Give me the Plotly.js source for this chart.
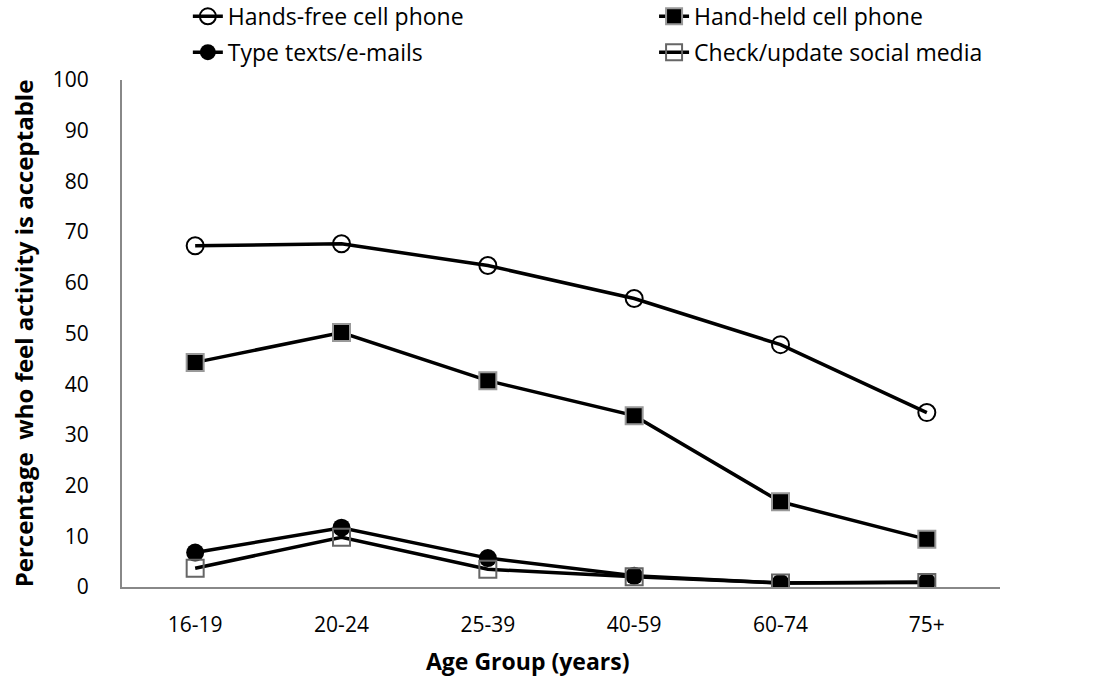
<!DOCTYPE html>
<html>
<head>
<meta charset="utf-8">
<script src="https://cdn.plot.ly/plotly-3.0.1.min.js"></script>
<style>html,body{margin:0;padding:0;background:#fff;}#chart{width:1102px;height:677px;}</style>
</head>
<body>
<div id="chart"></div>
<script>
var ageGroups = ["16-19", "20-24", "25-39", "40-59", "60-74", "75+"];
var handsFree = [67.3, 67.7, 63.4, 56.9, 47.8, 34.4];
var handHeld = [44.3, 50.2, 40.7, 33.8, 16.8, 9.4];
var typeTexts = [6.8, 11.7, 5.7, 2.2, 0.8, 1.0];
var socialMedia = [3.7, 9.8, 3.5, 2.0, 0.8, 0.9];
var yTicks = [0, 10, 20, 30, 40, 50, 60, 70, 80, 90, 100];
var xTitle = "Age Group (years)";
var yTitle = "Percentage  who feel activity is acceptable";

var FONT = "'Open Sans', sans-serif";
var lineW = 3.5;

var traces = [
  {x: ageGroups, y: handsFree, name: "Hands-free cell phone", type: "scatter", mode: "lines+markers",
   legend: "legend", legendgroup: "a",
   line: {color: "#000", width: lineW},
   marker: {symbol: "circle-open", size: 17, color: "#000", line: {width: 2, color: "#000"}}},
  {x: ageGroups, y: handHeld, name: "Hand-held cell phone", type: "scatter", mode: "lines+markers",
   legend: "legend2", legendgroup: "b",
   line: {color: "#000", width: lineW},
   marker: {symbol: "square", size: 17, color: "#000", line: {width: 2, color: "#999"}}},
  {x: ageGroups, y: typeTexts, name: "Type texts/e-mails", type: "scatter", mode: "lines+markers",
   legend: "legend", legendgroup: "c",
   line: {color: "#000", width: lineW},
   marker: {symbol: "circle", size: 18, color: "#000", line: {width: 0}}},
  {x: ageGroups, y: socialMedia, name: "Check/update social media", type: "scatter", mode: "lines+markers",
   legend: "legend2", legendgroup: "d",
   line: {color: "#000", width: lineW},
   marker: {symbol: "square-open", size: 17, color: "#666", line: {width: 2, color: "#666"}}}
];

var legendFont = {family: FONT, size: 23, color: "#000"};

var layout = {
  width: 1102, height: 677,
  paper_bgcolor: "#fff", plot_bgcolor: "#fff",
  margin: {l: 122, r: 102, t: 80, b: 90, autoexpand: false},
  font: {family: FONT, color: "#000", size: 18},
  showlegend: true,
  legend: {
    orientation: "v", x: 0.075, xanchor: "left", y: 1.168, yanchor: "top",
    font: legendFont, tracegroupgap: 3, traceorder: "grouped", bgcolor: "rgba(0,0,0,0)"
  },
  legend2: {
    orientation: "v", x: 0.606, xanchor: "left", y: 1.168, yanchor: "top",
    font: legendFont, tracegroupgap: 3, traceorder: "grouped", bgcolor: "rgba(0,0,0,0)"
  },
  xaxis: {
    type: "category", range: [-0.5, 5.5],
    showline: true, linecolor: "#888", linewidth: 2,
    showgrid: false, zeroline: false, ticks: "",
    ticklabelstandoff: 18,
    tickfont: {family: FONT, size: 21, color: "#000"}
  },
  yaxis: {
    range: [0, 100], tickvals: yTicks, ticktext: yTicks.map(String),
    showline: true, linecolor: "#888", linewidth: 2,
    showgrid: false, zeroline: false, ticks: "",
    ticklabelstandoff: 27,
    tickfont: {family: FONT, size: 21, color: "#000"},
    title: {text: yTitle, font: {family: FONT, size: 24, color: "#000", weight: "bold"}, standoff: 12}
  },
  annotations: [{
    text: xTitle, xref: "paper", yref: "paper", x: 0.4624, y: -0.146,
    xanchor: "center", yanchor: "middle", showarrow: false,
    font: {family: FONT, size: 23, color: "#000", weight: "bold"}
  }]
};

Plotly.newPlot("chart", traces, layout, {displayModeBar: false, staticPlot: true});
</script>
</body>
</html>
